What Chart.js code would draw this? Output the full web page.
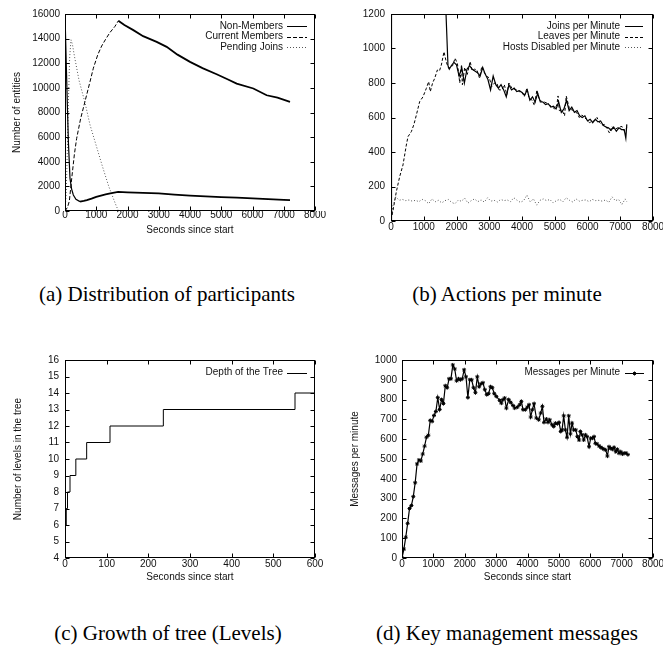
<!DOCTYPE html>
<html>
<head>
<meta charset="utf-8">
<script src="https://cdn.jsdelivr.net/npm/chart.js@4.4.0/dist/chart.umd.min.js"></script>
<style>
  body { margin: 0; background: #fff; }
  #page { position: relative; width: 663px; height: 645px; overflow: hidden; background: #fff; }
  canvas { position: absolute; }
  .cap { position: absolute; font-family: "Liberation Serif", "Times New Roman", serif; font-size: 21px;
         color: #000; white-space: nowrap; transform: translate(-50%, -50%); }
</style>
</head>
<body>
<div id="page">
  <canvas id="chartA" width="330" height="240" style="left:0;top:0"></canvas>
  <canvas id="chartB" width="333" height="240" style="left:330px;top:0"></canvas>
  <canvas id="chartC" width="330" height="270" style="left:0;top:330px"></canvas>
  <canvas id="chartD" width="333" height="270" style="left:330px;top:330px"></canvas>
  <div class="cap" style="left:167px;top:294px">(a) Distribution of participants</div>
  <div class="cap" style="left:507px;top:294px">(b) Actions per minute</div>
  <div class="cap" style="left:168px;top:633px">(c) Growth of tree (Levels)</div>
  <div class="cap" style="left:507px;top:633px">(d) Key management messages</div>
</div>
<script>
// (a) Distribution of participants
const nonMemT = [0, 40, 75, 110, 160, 210, 267, 350, 480, 600, 700, 850, 1000, 1150, 1300, 1450, 1700, 2000, 2500, 3000, 3500, 4000, 4500, 5000, 5500, 6000, 6500, 7000, 7200];
const nonMemV = [16000, 12000, 8600, 5500, 2650, 1800, 1300, 950, 760, 820, 880, 1000, 1150, 1250, 1350, 1430, 1550, 1520, 1480, 1430, 1330, 1250, 1180, 1120, 1080, 1020, 960, 900, 880];
const curT = [0, 80, 139, 213, 300, 373, 500, 640, 800, 907, 1050, 1173, 1300, 1440, 1600, 1707, 1900, 2187, 2500, 2933, 3253, 3600, 4000, 4400, 4853, 5200, 5493, 6027, 6453, 6800, 7200];
const curV = [0, 300, 800, 2600, 4600, 5900, 7500, 8900, 10500, 11600, 12700, 13400, 13950, 14500, 15000, 15450, 15100, 14690, 14200, 13740, 13330, 12700, 12110, 11600, 11110, 10700, 10350, 9950, 9400, 9200, 8860];
const pendT = [0, 40, 80, 110, 150, 192, 240, 300, 450, 640, 800, 1000, 1200, 1400, 1550, 1650, 1720];
const pendV = [0, 1500, 5500, 9000, 12500, 13900, 13500, 12600, 10600, 8800, 7000, 5300, 3600, 2000, 1000, 350, 0];

// (b) Actions per minute
const joinT = [0, 15, 1600, 1680, 1740, 1780,
  1840, 1920, 2000, 2080, 2160, 2240, 2320, 2400, 2480, 2560, 2640, 2720, 2800, 2880, 2960, 3040, 3120, 3200, 3280, 3360,
  3440, 3520, 3600, 3680, 3760, 3840, 3920, 4000, 4080, 4160, 4240, 4320, 4400, 4480, 4560, 4640, 4720, 4800, 4880, 4960,
  5040, 5120, 5200, 5280, 5360, 5440, 5520, 5600, 5680, 5760, 5840, 5920, 6000, 6080, 6160, 6240, 6320, 6400, 6480, 6560,
  6640, 6720, 6800, 6880, 6960, 7040, 7120, 7170, 7200];
const joinV = [0, 1200, 1200, 1200, 900, 880,
  900, 920, 905, 840, 890, 800, 880, 900, 880, 870, 860, 840, 890, 850, 820, 760, 840, 790, 770, 790,
  760, 720, 790, 760, 770, 750, 755, 745, 730, 760, 700, 720, 690, 740, 690, 690, 675, 680, 660, 665,
  650, 690, 630, 650, 700, 640, 660, 630, 640, 610, 600, 610, 580, 590, 570, 590, 575, 580, 555, 545,
  540, 525, 545, 520, 540, 530, 530, 480, 560];
const leaveT = [0, 60, 163, 265, 366, 468, 519, 621, 700, 774, 875, 977, 1079, 1150, 1200, 1270, 1334, 1415, 1480, 1537,
  1618, 1690, 1761, 1804, 1880, 1957, 2030, 2100, 2150, 2180, 2250, 2330, 2416, 2480, 2550, 2620, 2700, 2773, 2850, 2926,
  3000, 3078, 3160, 3231, 3300, 3384, 3460, 3537, 3600, 3690, 3760, 3843, 3920, 3996, 4070, 4149, 4220, 4302, 4380, 4455,
  4530, 4608, 4680, 4760, 4840, 4913, 4990, 5066, 5100, 5140, 5219, 5300, 5350, 5450, 5525, 5600, 5678, 5750, 5831, 5910,
  5984, 6060, 6137, 6210, 6290, 6370, 6442, 6520, 6595, 6670, 6748, 6820, 6901, 6980, 7054, 7130, 7200];
const leaveV = [6, 60, 170, 257, 325, 440, 489, 518, 560, 614, 692, 720, 769, 808, 750, 800, 827, 875, 870, 904,
  981, 920, 885, 896, 900, 944, 910, 800, 900, 790, 890, 850, 925, 870, 880, 877, 830, 896, 860, 838,
  830, 780, 800, 800, 760, 760, 790, 732, 800, 770, 765, 760, 750, 751, 720, 770, 710, 702, 670, 760,
  700, 693, 690, 683, 670, 664, 650, 673, 725, 640, 644, 610, 725, 650, 644, 640, 625, 600, 615, 600,
  586, 570, 577, 580, 600, 570, 557, 560, 538, 510, 548, 530, 538, 545, 548, 520, 540];
const hostT = [0, 60, 150, 250, 350, 450, 550, 650, 750, 850, 950, 1050, 1150, 1250, 1350, 1450, 1550, 1650, 1750, 1850,
  1950, 2050, 2150, 2250, 2350, 2450, 2550, 2650, 2750, 2850, 2950, 3050, 3150, 3250, 3350, 3450, 3550, 3650, 3750, 3850,
  3950, 4050, 4150, 4250, 4350, 4450, 4550, 4650, 4750, 4850, 4950, 5050, 5150, 5250, 5350, 5450, 5550, 5650, 5750, 5850,
  5950, 6050, 6150, 6250, 6350, 6450, 6550, 6650, 6750, 6850, 6950, 7050, 7150, 7200];
const hostV = [0, 90, 140, 120, 125, 118, 122, 115, 120, 112, 125, 118, 100, 128, 112, 120, 105, 118, 125, 108,
  100, 120, 115, 132, 104, 118, 128, 112, 122, 110, 135, 115, 120, 110, 125, 118, 122, 112, 135, 120,
  108, 118, 150, 112, 128, 92, 120, 128, 118, 125, 105, 118, 125, 112, 135, 120, 110, 128, 115, 120,
  122, 112, 125, 118, 120, 115, 122, 108, 140, 118, 125, 95, 128, 112];

// (c) Growth of tree (Levels)
const treeT = [0, 1, 3, 6, 12, 26, 52, 108, 236, 552, 600];
const treeV = [5, 6, 7, 8, 9, 10, 11, 12, 13, 14, 14];

// (d) Key management messages
const msgT = [0, 60, 120, 180, 240, 300, 360, 420, 480, 540, 600, 660, 720, 780, 840, 900, 960, 1020, 1080, 1140,
  1200, 1260, 1320, 1380, 1440, 1500, 1560, 1620, 1680, 1740, 1800, 1860, 1920, 1980, 2040, 2100, 2160, 2220, 2280, 2340,
  2400, 2460, 2520, 2580, 2640, 2700, 2760, 2820, 2880, 2940,
  3007, 3113, 3167, 3220, 3273, 3326, 3400, 3465, 3540, 3592, 3677, 3751, 3804, 3858, 3932, 3996, 4049, 4102, 4155, 4208,
  4283, 4357, 4421, 4474, 4527, 4601, 4654, 4708, 4782, 4835, 4889, 4952, 5005, 5059, 5101, 5154, 5207, 5260, 5314, 5367,
  5420, 5473, 5537, 5590, 5643, 5685, 5739, 5792, 5845, 5898, 5962, 6015, 6068, 6121, 6164, 6217, 6281, 6334, 6387, 6440,
  6493, 6546, 6599, 6652, 6706, 6759, 6812, 6865, 6918, 6971, 7024, 7078, 7140, 7200];
const msgV = [0, 45, 105, 175, 250, 265, 310, 380, 475, 495, 490, 525, 565, 610, 620, 695, 690, 720, 740, 810,
  750, 800, 780, 870, 860, 905, 905, 975, 955, 895, 905, 900, 905, 950, 915, 810, 900, 900, 860, 835,
  915, 865, 880, 885, 850, 825, 830, 865, 860, 830,
  816, 796, 782, 800, 808, 757, 800, 786, 770, 757, 762, 774, 791, 749, 749, 762, 774, 712, 749, 779,
  707, 698, 732, 766, 685, 702, 685, 698, 673, 664, 681, 678, 685, 639, 647, 718, 647, 610, 718, 627,
  681, 647, 647, 613, 596, 639, 622, 596, 622, 613, 562, 605, 605, 613, 579, 576, 566, 559, 554, 549,
  546, 515, 562, 554, 549, 559, 537, 549, 529, 537, 525, 529, 530, 522];

Chart.defaults.font.family = '"Liberation Sans", Arial, Helvetica, sans-serif';
Chart.defaults.font.size = 10;
Chart.defaults.color = '#111';

const pts = (ts, vs) => ts.map((t, i) => ({x: t, y: vs[i]}));

// gnuplot style border with inward ticks on all four sides
const gnuFrame = {
  id: 'gnuFrame',
  afterDatasetsDraw(chart) {
    const {ctx, chartArea: a, scales} = chart;
    const L = Math.round(a.left) + 0.5, R = Math.round(a.right) - 0.5;
    const T = Math.round(a.top) + 0.5, B = Math.round(a.bottom) - 0.5;
    ctx.save();
    ctx.strokeStyle = '#000';
    ctx.lineWidth = 1;
    ctx.setLineDash([]);
    ctx.strokeRect(L, T, R - L, B - T);
    ctx.beginPath();
    scales.x.ticks.forEach(t => {
      const px = Math.round(scales.x.getPixelForValue(t.value)) + 0.5;
      ctx.moveTo(px, B); ctx.lineTo(px, B - 4);
      ctx.moveTo(px, T); ctx.lineTo(px, T + 4);
    });
    scales.y.ticks.forEach(t => {
      const py = Math.round(scales.y.getPixelForValue(t.value)) + 0.5;
      ctx.moveTo(L, py); ctx.lineTo(L + 4, py);
      ctx.moveTo(R, py); ctx.lineTo(R - 4, py);
    });
    ctx.stroke();
    ctx.restore();
  }
};

// key: label right aligned, then a line sample
const gnuKey = {
  id: 'gnuKey',
  afterDraw(chart, args, o) {
    const ctx = chart.ctx;
    ctx.save();
    ctx.font = '10px "Liberation Sans", Arial, sans-serif';
    ctx.textAlign = 'right';
    ctx.textBaseline = 'middle';
    chart.data.datasets.forEach((ds, i) => {
      const y = o.y + i * 10.6;
      const ly = Math.round(y) + 0.5;
      ctx.fillStyle = '#111';
      ctx.fillText(ds.label, o.textRight, y);
      ctx.beginPath();
      ctx.setLineDash(ds.borderDash || []);
      ctx.lineWidth = 1;
      ctx.strokeStyle = ds.borderColor;
      ctx.moveTo(o.x0, ly);
      ctx.lineTo(o.x1, ly);
      ctx.stroke();
      if (ds.pointRadius) {
        ctx.setLineDash([]);
        ctx.fillStyle = '#000';
        ctx.lineWidth = ds.pointBorderWidth;
        Chart.helpers.drawPoint(ctx, {pointStyle: ds.pointStyle, radius: ds.pointRadius, borderWidth: ds.pointBorderWidth},
          (o.x0 + o.x1) / 2, ly);
      }
    });
    ctx.restore();
  }
};

function fixW(w) {
  return s => { s.width = w; s.paddingTop = 0; s.paddingBottom = 0; s.paddingLeft = 0; s.paddingRight = 0; };
}
function fixH(h) {
  return s => { s.height = h; s.paddingLeft = 0; s.paddingRight = 0; s.paddingTop = 0; s.paddingBottom = 0; };
}

function makeChart(id, datasets, p) {
  return new Chart(document.getElementById(id), {
    type: 'line',
    data: {datasets: datasets},
    plugins: [gnuFrame, gnuKey],
    options: {
      responsive: false,
      animation: false,
      layout: {padding: {left: 0, top: p.top, right: p.right, bottom: 0}},
      elements: {line: {tension: 0, borderWidth: 1}, point: {radius: 0}},
      plugins: {legend: {display: false}, tooltip: {enabled: false}, gnuKey: p.key},
      scales: {
        x: {
          type: 'linear', min: p.xMin, max: p.xMax,
          grid: {display: false, drawTicks: false}, border: {display: false},
          ticks: {stepSize: p.xStep, padding: p.xPad, maxRotation: 0, autoSkip: false, callback: v => String(v)},
          title: {display: !!p.xTitle, text: p.xTitle, font: {size: 10}, padding: {top: 0, bottom: p.xTitlePad}},
          afterFit: fixH(p.xH)
        },
        y: {
          min: p.yMin, max: p.yMax,
          grid: {display: false, drawTicks: false}, border: {display: false},
          ticks: {stepSize: p.yStep, padding: p.yPad, autoSkip: false, callback: v => String(v)},
          title: {display: !!p.yTitle, text: p.yTitle, font: {size: 10}, padding: {top: p.yTitlePad, bottom: 0}},
          afterFit: fixW(p.yW)
        }
      }
    }
  });
}

makeChart('chartA', [
  {label: 'Non-Members', data: pts(nonMemT, nonMemV), borderColor: '#000',
   segment: {borderWidth: c => c.p0.parsed.x >= 400 ? 1.8 : 1.2}},
  {label: 'Current Members', data: pts(curT, curV), borderColor: '#000', borderDash: [4, 2],
   segment: {borderDash: c => c.p0.parsed.x >= 1700 ? [] : [4, 2], borderWidth: c => c.p0.parsed.x >= 1700 ? 1.8 : 1}},
  {label: 'Pending Joins', data: pts(pendT, pendV), borderColor: '#555', borderDash: [1, 2]}
], {top: 14, right: 15, yW: 65, xH: 29, xMin: 0, xMax: 8000, xStep: 1000, yMin: 0, yMax: 16000, yStep: 2000,
    xPad: -2, yPad: 5, xTitle: 'Seconds since start', xTitlePad: 4, yTitle: 'Number of entities', yTitlePad: 11,
    key: {textRight: 283, x0: 287, x1: 307, y: 26}});

makeChart('chartB', [
  {label: 'Joins per Minute', data: pts(joinT, joinV), borderColor: '#000', borderWidth: 1.2},
  {label: 'Leaves per Minute', data: pts(leaveT, leaveV), borderColor: '#000', borderDash: [3, 2]},
  {label: 'Hosts Disabled per Minute', data: pts(hostT, hostV), borderColor: '#555', borderDash: [1, 2]}
], {top: 14, right: 10, yW: 61, xH: 19, xMin: 0, xMax: 8000, xStep: 1000, yMin: 0, yMax: 1200, yStep: 200,
    xPad: 0, yPad: 6, key: {textRight: 290, x0: 295, x1: 313, y: 26}});

makeChart('chartC', [
  {label: 'Depth of the Tree', data: pts(treeT, treeV), borderColor: '#000', stepped: 'before'}
], {top: 30, right: 15, yW: 65, xH: 42, xMin: 0, xMax: 600, xStep: 100, yMin: 4, yMax: 16, yStep: 1,
    xPad: 0, yPad: 6, xTitle: 'Seconds since start', xTitlePad: 17, yTitle: 'Number of levels in the tree', yTitlePad: 12,
    key: {textRight: 283, x0: 287, x1: 307, y: 42.7}});

makeChart('chartD', [
  {label: 'Messages per Minute', data: pts(msgT, msgV), borderColor: '#000', borderWidth: 1.2,
   pointRadius: 2, pointStyle: 'star', pointBorderWidth: 1, pointBorderColor: '#000', pointBackgroundColor: '#000'}
], {top: 30, right: 10, yW: 72, xH: 42, xMin: 0, xMax: 8000, xStep: 1000, yMin: 0, yMax: 1000, yStep: 100,
    xPad: 0, yPad: 5, xTitle: 'Seconds since start', xTitlePad: 17, yTitle: 'Messages per minute', yTitlePad: 19,
    key: {textRight: 290, x0: 295, x1: 314, y: 42.7}});
</script>
</body>
</html>
